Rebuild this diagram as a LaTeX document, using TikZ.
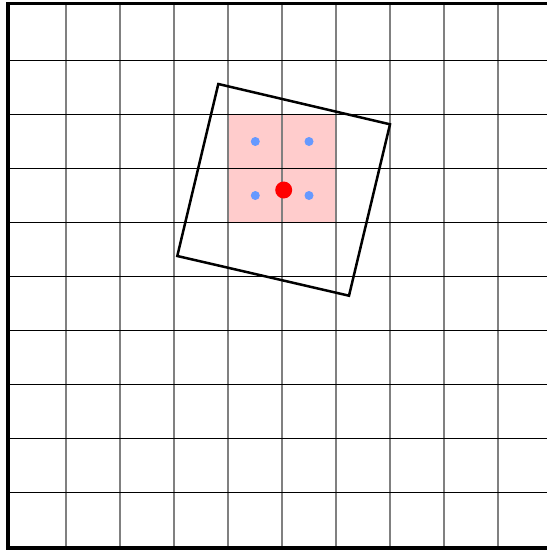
\documentclass[tikz,border=0pt]{standalone}
\begin{document}
\begin{tikzpicture}[x=1pt,y=-1pt,
  vline/.style={draw=black!50,line width=1.3pt},
  hline/.style={draw=black,line width=1pt},
  border/.style={draw=black,line width=3.5pt},
  bluedot/.style={circle,fill={rgb,255:red,102;green,153;blue,255},inner sep=0pt,minimum size=9pt},
  reddot/.style={circle,fill=red,inner sep=0pt,minimum size=17pt},
  rotsq/.style={draw=black,line width=2.5pt,line join=miter}]
\useasboundingbox (0,0) rectangle (547,552);
\fill[white] (0,0) rectangle (547,552);
% pink cells
\fill[fill={rgb,255:red,255;green,204;blue,204}] (228,114.5) rectangle (336,222.5);
% grid
\foreach \x in {66,120,174,228,282,336,390,444,498}
  \draw[vline] (\x,3.5) -- (\x,548);
\foreach \y in {60.5,114.5,168.5,222.5,276.5,330.5,384.5,438.5,492.5}
  \draw[hline] (8,\y) -- (547,\y);
% borders
\draw[border] (8,2) -- (8,550);
\draw[border,line width=3pt] (6,3.5) -- (547,3.5);
\draw[border] (6,548) -- (547,548);
% rotated square
\coordinate (c1) at (218.3,84);
\coordinate (c2) at (390,124.3);
\coordinate (c3) at (349,295.7);
\coordinate (c4) at (177.3,256);
\draw[rotsq] (c1) -- (c2) -- (c3) -- (c4) -- cycle;
% dots
\node[bluedot] (b1) at (255.3,141.5) {};
\node[bluedot] (b2) at (309,141.5) {};
\node[bluedot] (b3) at (255.3,195.5) {};
\node[bluedot] (b4) at (309,195.5) {};
\node[reddot] (r) at (283.7,190) {};
\end{tikzpicture}
\end{document}
